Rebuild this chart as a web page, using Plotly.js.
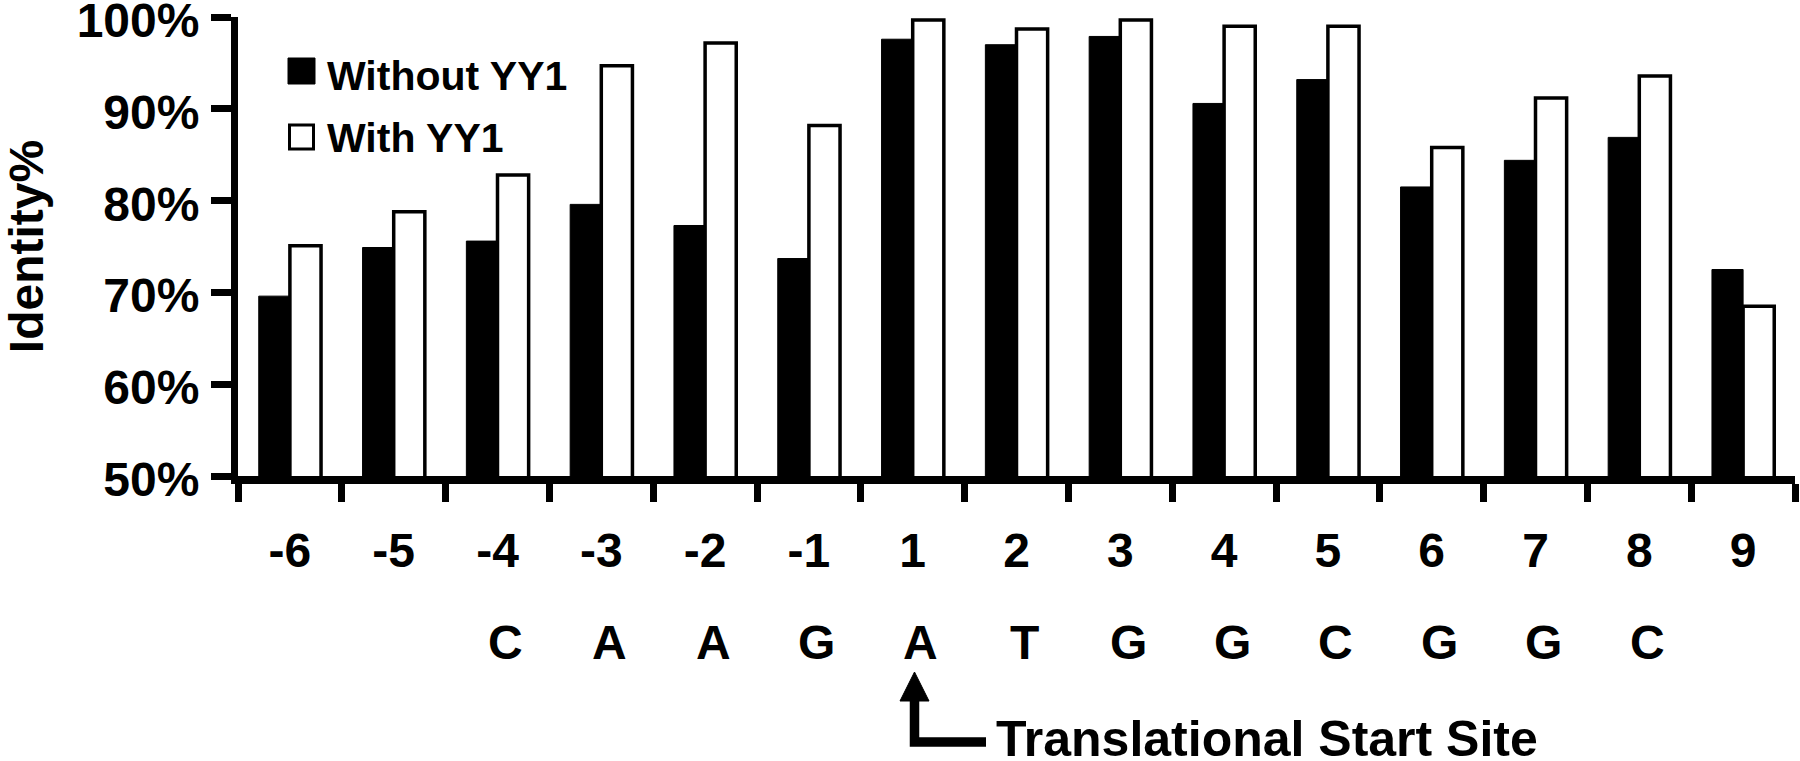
<!DOCTYPE html>
<html>
<head>
<meta charset="utf-8">
<script src="https://cdn.plot.ly/plotly-3.0.1.min.js"></script>
<style>
  html, body { margin: 0; padding: 0; background: #fff; }
  #chart { width: 1800px; height: 761px; }
</style>
</head>
<body>
<div id="chart"></div>
<script>
// positions relative to the translational start site
const positions = ['-6', '-5', '-4', '-3', '-2', '-1', '1', '2', '3', '4', '5', '6', '7', '8', '9'];
const withoutYY1 = [69.6, 74.9, 75.6, 79.6, 77.3, 73.7, 97.6, 97.0, 97.9, 90.6, 93.2, 81.5, 84.4, 86.9, 72.5];
const withYY1 = [75.1, 78.8, 82.8, 94.7, 97.2, 88.2, 99.7, 98.7, 99.7, 99.0, 99.0, 85.8, 91.2, 93.6, 68.5];
// nucleotide under each position (blank where none)
const bases = ['', '', 'C', 'A', 'A', 'G', 'A', 'T', 'G', 'G', 'C', 'G', 'G', 'C', ''];
const yTickVals = [50, 60, 70, 80, 90, 100];
const yTickText = ['50%', '60%', '70%', '80%', '90%', '100%'];
const seriesNames = ['Without YY1', 'With YY1'];
const siteLabel = 'Translational Start Site';
const yTitle = 'Identity%';

const W = 1800, H = 761;
const M = { l: 238, r: 5, t: 17, b: 285 };
const plotW = W - M.l - M.r, plotH = H - M.t - M.b;
// pixel -> paper helpers for the decorations
const px = x => (x - M.l) / plotW;
const py = y => (H - M.b - y) / plotH;

const FONT = 'Liberation Sans, Arial, sans-serif';

const without = {
  type: 'bar',
  name: seriesNames[0],
  x: positions,
  y: withoutYY1,
  marker: { color: '#000', line: { color: '#000', width: 1 } },
  showlegend: false
};

const withT = {
  type: 'bar',
  name: seriesNames[1],
  x: positions,
  y: withYY1,
  marker: { color: '#fff', line: { color: '#000', width: 3.5 } },
  showlegend: false
};

const annotations = [];
// category axis: annotation x given as the category index
bases.forEach((b, i) => {
  if (!b) return;
  annotations.push({
    x: i, xref: 'x', y: py(642), yref: 'paper',
    text: b, showarrow: false, xanchor: 'center', yanchor: 'middle', xshift: 8,
    font: { family: FONT, size: 48, weight: 'bold', color: '#000' }
  });
});

// legend drawn by hand so the swatches are large like the original
annotations.push({
  x: px(325), xref: 'paper', y: py(76), yref: 'paper', text: seriesNames[0],
  showarrow: false, xanchor: 'left', yanchor: 'middle',
  font: { family: FONT, size: 41, weight: 'bold', color: '#000' }
});
annotations.push({
  x: px(325), xref: 'paper', y: py(138), yref: 'paper', text: seriesNames[1],
  showarrow: false, xanchor: 'left', yanchor: 'middle',
  font: { family: FONT, size: 41, weight: 'bold', color: '#000' }
});

annotations.push({
  x: px(994), xref: 'paper', y: py(739), yref: 'paper', text: siteLabel,
  showarrow: false, xanchor: 'left', yanchor: 'middle',
  font: { family: FONT, size: 50, weight: 'bold', color: '#000' }
});

const shapes = [
  { type: 'rect', xref: 'paper', yref: 'paper', x0: px(288), x1: px(315), y0: py(84), y1: py(58),
    fillcolor: '#000', line: { color: '#000', width: 1 } },
  { type: 'rect', xref: 'paper', yref: 'paper', x0: px(289.5), x1: px(313.5), y0: py(149), y1: py(125),
    fillcolor: '#fff', line: { color: '#000', width: 3 } },
  // arrow to the start site
  { type: 'path', xref: 'paper', yref: 'paper',
    path: `M${px(914.5)},${py(698)} L${px(914.5)},${py(742)} L${px(986)},${py(742)}`,
    line: { color: '#000', width: 9.5 } },
  { type: 'path', xref: 'paper', yref: 'paper',
    path: `M${px(914.5)},${py(672)} L${px(929)},${py(701)} L${px(900)},${py(701)} Z`,
    fillcolor: '#000', line: { color: '#000', width: 1 } }
];

const layout = {
  width: W, height: H,
  margin: M,
  paper_bgcolor: '#fff', plot_bgcolor: '#fff',
  barmode: 'group', bargap: 0.4, bargroupgap: 0,
  font: { family: FONT, size: 48, color: '#000', weight: 'bold' },
  xaxis: {
    type: 'category', range: [-0.5, positions.length - 0.5],
    showline: true, linecolor: '#000', linewidth: 8,
    ticks: 'outside', tickson: 'boundaries', ticklen: 18, tickwidth: 7, tickcolor: '#000',
    ticklabelstandoff: 25,
    tickfont: { family: FONT, size: 48, weight: 'bold', color: '#000' },
    showgrid: false, zeroline: false, fixedrange: true
  },
  yaxis: {
    range: [50, 100.02], tickmode: 'array', tickvals: yTickVals, ticktext: yTickText,
    ticklabeloverflow: 'allow', ticklabelshift: 3,
    showline: true, linecolor: '#000', linewidth: 7,
    ticks: 'outside', ticklen: 20, tickwidth: 7, tickcolor: '#000',
    ticklabelstandoff: 2,
    tickfont: { family: FONT, size: 48, weight: 'bold', color: '#000' },
    title: { text: yTitle, standoff: 52, font: { family: FONT, size: 48, weight: 'bold', color: '#000' } },
    showgrid: false, zeroline: false, fixedrange: true
  },
  annotations: annotations,
  shapes: shapes
};

Plotly.newPlot('chart', [without, withT], layout, { displayModeBar: false, staticPlot: true });
</script>
</body>
</html>
